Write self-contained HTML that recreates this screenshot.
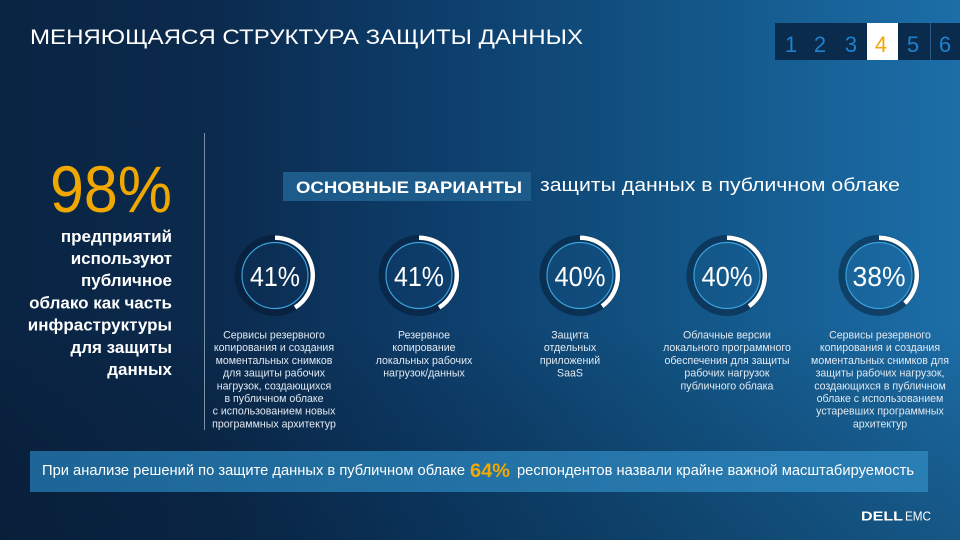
<!DOCTYPE html>
<html>
<head>
<meta charset="utf-8">
<style>
html,body{margin:0;padding:0;width:960px;height:540px;overflow:hidden;background:#0b2a4c;}
svg{display:block;}
text{font-family:"Liberation Sans","Noto Sans CJK SC",sans-serif;}
</style>
</head>
<body>
<svg width="960" height="540" viewBox="0 0 960 540" xmlns="http://www.w3.org/2000/svg">
  <defs>
    <linearGradient id="bg" x1="0" y1="0" x2="1" y2="0">
      <stop offset="0" stop-color="#0a2443"/>
      <stop offset="0.22" stop-color="#0b2a4d"/>
      <stop offset="0.45" stop-color="#0d3d6a"/>
      <stop offset="0.7" stop-color="#125485"/>
      <stop offset="1" stop-color="#1c6ea8"/>
    </linearGradient>
    <linearGradient id="shade" x1="0" y1="0" x2="0" y2="1">
      <stop offset="0" stop-color="#000" stop-opacity="0"/>
      <stop offset="0.6" stop-color="#000" stop-opacity="0"/>
      <stop offset="1" stop-color="#021020" stop-opacity="0.25"/>
    </linearGradient>
    <linearGradient id="banner" x1="0" y1="0" x2="1" y2="0">
      <stop offset="0" stop-color="#1d6596"/>
      <stop offset="1" stop-color="#2a7fb5"/>
    </linearGradient>
  </defs>

  <rect x="0" y="0" width="960" height="540" fill="url(#bg)"/>
  <rect x="0" y="0" width="960" height="540" fill="url(#shade)"/>

  <!-- Title -->
  <text x="30" y="44" font-size="21" fill="#ffffff" textLength="553" lengthAdjust="spacingAndGlyphs">МЕНЯЮЩАЯСЯ СТРУКТУРА ЗАЩИТЫ ДАННЫХ</text>

  <!-- Page nav -->
  <rect x="775" y="23" width="185" height="37" fill="#0a2b4b"/>
  <rect x="867" y="23" width="31" height="37" fill="#ffffff"/>
  <line x1="930.5" y1="23" x2="930.5" y2="60" stroke="#2a5a85" stroke-width="1"/>
  <g font-size="22" fill="#1f80d0" text-anchor="middle">
    <text x="791" y="52">1</text>
    <text x="820" y="52">2</text>
    <text x="851" y="52">3</text>
    <text x="881" y="52" fill="#f2a600">4</text>
    <text x="913" y="52">5</text>
    <text x="945" y="52">6</text>
  </g>

  <!-- Divider -->
  <line x1="204.5" y1="133" x2="204.5" y2="430" stroke="#a9bccf" stroke-opacity="0.7" stroke-width="1"/>

  <!-- 98% -->
  <text x="172" y="212" font-size="66" fill="#f0a800" text-anchor="end" textLength="122" lengthAdjust="spacingAndGlyphs">98%</text>
  <g font-size="17" font-weight="bold" fill="#ffffff" text-anchor="end">
    <text x="172" y="242">предприятий</text>
    <text x="172" y="264">используют</text>
    <text x="172" y="286">публичное</text>
    <text x="172" y="308.5">облако как часть</text>
    <text x="172" y="330.5">инфраструктуры</text>
    <text x="172" y="353">для защиты</text>
    <text x="172" y="375">данных</text>
  </g>

  <!-- Heading -->
  <rect x="283" y="172" width="248" height="29" fill="#1d5b8b"/>
  <text x="296" y="193" font-size="16.5" font-weight="bold" fill="#ffffff" textLength="226" lengthAdjust="spacingAndGlyphs">ОСНОВНЫЕ ВАРИАНТЫ</text>
  <text x="540" y="191" font-size="18" fill="#ffffff" textLength="360" lengthAdjust="spacingAndGlyphs">защиты данных в публичном облаке</text>

  <!-- Rings -->
  <g>
    <!-- ring 1 -->
    <g transform="translate(275,275.5)">
      <circle r="36.5" fill="none" stroke="#041429" stroke-opacity="0.45" stroke-width="8"/>
      <circle r="33" fill="none" stroke="#3aa2de" stroke-width="1.2"/>
      <circle r="37.8" fill="none" stroke="#ffffff" stroke-width="4.5" stroke-dasharray="97.4 400" transform="rotate(-90)"/>
      <text x="0" y="10.5" font-size="28" fill="#ffffff" text-anchor="middle" textLength="50" lengthAdjust="spacingAndGlyphs">41%</text>
    </g>
    <!-- ring 2 -->
    <g transform="translate(419,275.5)">
      <circle r="36.5" fill="none" stroke="#041429" stroke-opacity="0.45" stroke-width="8"/>
      <circle r="33" fill="none" stroke="#3aa2de" stroke-width="1.2"/>
      <circle r="37.8" fill="none" stroke="#ffffff" stroke-width="4.5" stroke-dasharray="97.4 400" transform="rotate(-90)"/>
      <text x="0" y="10.5" font-size="28" fill="#ffffff" text-anchor="middle" textLength="50" lengthAdjust="spacingAndGlyphs">41%</text>
    </g>
    <!-- ring 3 -->
    <g transform="translate(580,275.5)">
      <circle r="36.5" fill="none" stroke="#041429" stroke-opacity="0.45" stroke-width="8"/>
      <circle r="33" fill="none" stroke="#3aa2de" stroke-width="1.2"/>
      <circle r="37.8" fill="none" stroke="#ffffff" stroke-width="4.5" stroke-dasharray="95 400" transform="rotate(-90)"/>
      <text x="0" y="10.5" font-size="28" fill="#ffffff" text-anchor="middle" textLength="51" lengthAdjust="spacingAndGlyphs">40%</text>
    </g>
    <!-- ring 4 -->
    <g transform="translate(727,275.5)">
      <circle r="36.5" fill="none" stroke="#041429" stroke-opacity="0.45" stroke-width="8"/>
      <circle r="33" fill="none" stroke="#3aa2de" stroke-width="1.2"/>
      <circle r="37.8" fill="none" stroke="#ffffff" stroke-width="4.5" stroke-dasharray="95 400" transform="rotate(-90)"/>
      <text x="0" y="10.5" font-size="28" fill="#ffffff" text-anchor="middle" textLength="51" lengthAdjust="spacingAndGlyphs">40%</text>
    </g>
    <!-- ring 5 -->
    <g transform="translate(879,275.5)">
      <circle r="36.5" fill="none" stroke="#041429" stroke-opacity="0.45" stroke-width="8"/>
      <circle r="33" fill="none" stroke="#3aa2de" stroke-width="1.2"/>
      <circle r="37.8" fill="none" stroke="#ffffff" stroke-width="4.5" stroke-dasharray="90.3 400" transform="rotate(-90)"/>
      <text x="0" y="10.5" font-size="28" fill="#ffffff" text-anchor="middle" textLength="53" lengthAdjust="spacingAndGlyphs">38%</text>
    </g>
  </g>

  <!-- Descriptions -->
  <g font-size="10.6" fill="#e2e9f1" text-anchor="middle">
    <text x="274" y="338.5">Сервисы резервного</text>
    <text x="274" y="351.2">копирования и создания</text>
    <text x="274" y="363.9">моментальных снимков</text>
    <text x="274" y="376.6">для защиты рабочих</text>
    <text x="274" y="389.3">нагрузок, создающихся</text>
    <text x="274" y="402">в публичном облаке</text>
    <text x="274" y="414.7">с использованием новых</text>
    <text x="274" y="427.4">программных архитектур</text>

    <text x="424" y="338.5">Резервное</text>
    <text x="424" y="351.2">копирование</text>
    <text x="424" y="363.9">локальных рабочих</text>
    <text x="424" y="376.6">нагрузок/данных</text>

    <text x="570" y="338.5">Защита</text>
    <text x="570" y="351.2">отдельных</text>
    <text x="570" y="363.9">приложений</text>
    <text x="570" y="376.6">SaaS</text>

    <text x="727" y="338.5">Облачные версии</text>
    <text x="727" y="351.2">локального программного</text>
    <text x="727" y="363.9">обеспечения для защиты</text>
    <text x="727" y="376.6">рабочих нагрузок</text>
    <text x="727" y="389.3">публичного облака</text>

    <text x="880" y="338.5">Сервисы резервного</text>
    <text x="880" y="351.2">копирования и создания</text>
    <text x="880" y="363.9">моментальных снимков для</text>
    <text x="880" y="376.6">защиты рабочих нагрузок,</text>
    <text x="880" y="389.3">создающихся в публичном</text>
    <text x="880" y="402">облаке с использованием</text>
    <text x="880" y="414.7">устаревших программных</text>
    <text x="880" y="427.4">архитектур</text>
  </g>

  <!-- Banner -->
  <rect x="30" y="451" width="898" height="41" fill="url(#banner)"/>
  <text x="42" y="475" font-size="15" fill="#ffffff" textLength="423" lengthAdjust="spacingAndGlyphs">При анализе решений по защите данных в публичном облаке</text>
  <text x="470" y="477" font-size="19" font-weight="bold" fill="#f2a900" textLength="40" lengthAdjust="spacingAndGlyphs">64%</text>
  <text x="517" y="475" font-size="15" fill="#ffffff" textLength="397" lengthAdjust="spacingAndGlyphs">респондентов назвали крайне важной масштабируемость</text>

  <!-- Logo -->
  <text x="861" y="520.5" font-size="13" font-weight="bold" fill="#ffffff" textLength="42" lengthAdjust="spacingAndGlyphs">DELL</text>
  <text x="905" y="520.5" font-size="13" fill="#ffffff" textLength="26" lengthAdjust="spacingAndGlyphs">EMC</text>
</svg>
</body>
</html>
